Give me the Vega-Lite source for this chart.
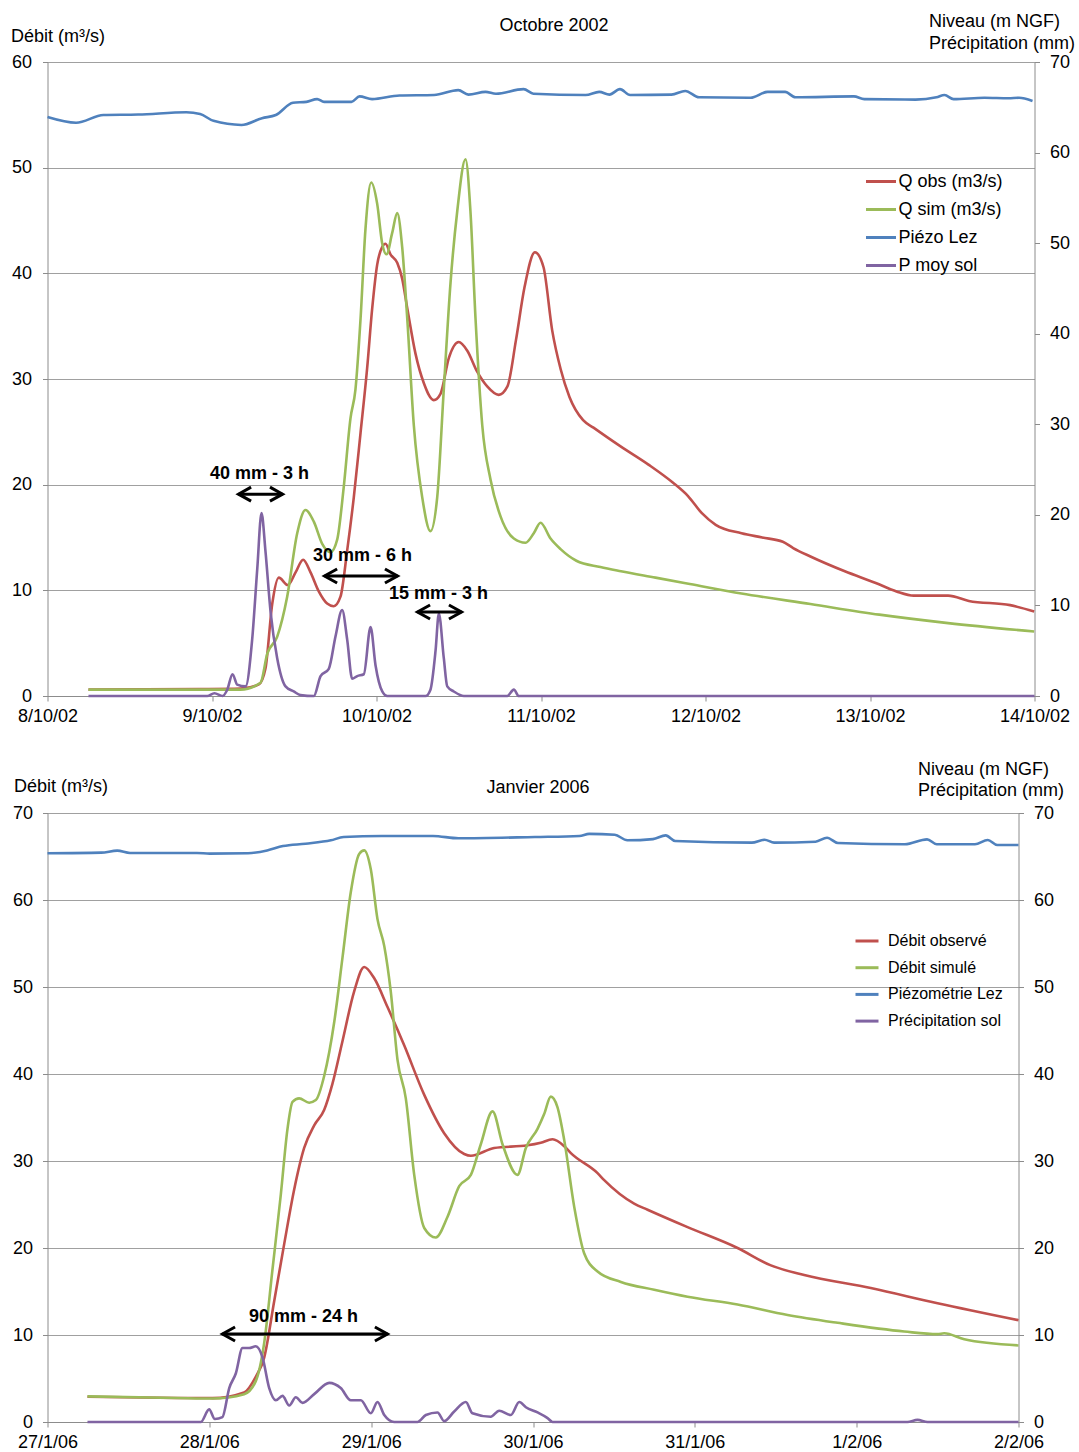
{
"$schema": "https://vega.github.io/schema/vega-lite/v6.json",
"padding": {"left": 10.5, "top": 12, "right": 5, "bottom": 5},
"config": {
  "font": "Liberation Sans",
  "view": {"stroke": null},
  "axis": {"labelFont": "Liberation Sans", "labelFontSize": 18, "labelColor": "#000000", "domainColor": "#8c8c8c", "tickColor": "#8c8c8c", "gridColor": "#a0a0a0", "tickSize": 5, "titleFont": "Liberation Sans", "titleFontWeight": "normal", "titleFontSize": 18, "titleColor": "#000000", "labelFlush": false, "labelOverlap": false, "labelBound": false},
  "legend": {"labelFont": "Liberation Sans", "labelColor": "#000000", "padding": 0, "labelLimit": 400},
  "title": {"font": "Liberation Sans", "fontSize": 18, "fontWeight": "normal", "color": "#000000", "anchor": "middle", "frame": "group"}
},
"datasets": {
  "t_obs": [{"d":8.249,"v":0.6},{"d":8.93,"v":0.65},{"d":9.173,"v":0.7},{"d":9.285,"v":1.1},{"d":9.325,"v":2.6},{"d":9.366,"v":8.7},{"d":9.406,"v":11.2},{"d":9.461,"v":10.5},{"d":9.508,"v":11.7},{"d":9.554,"v":12.9},{"d":9.599,"v":11.7},{"d":9.649,"v":9.9},{"d":9.7,"v":8.75},{"d":9.74,"v":8.5},{"d":9.781,"v":9.4},{"d":9.822,"v":13.8},{"d":9.862,"v":18.8},{"d":9.903,"v":24.9},{"d":9.943,"v":31},{"d":9.974,"v":36.7},{"d":10.004,"v":40.8},{"d":10.035,"v":42.5},{"d":10.055,"v":42.8},{"d":10.085,"v":41.8},{"d":10.126,"v":41},{"d":10.156,"v":39.5},{"d":10.187,"v":36.7},{"d":10.237,"v":32.4},{"d":10.288,"v":29.6},{"d":10.348,"v":28},{"d":10.389,"v":28.6},{"d":10.44,"v":32},{"d":10.5,"v":33.5},{"d":10.551,"v":32.7},{"d":10.612,"v":30.7},{"d":10.673,"v":29.3},{"d":10.743,"v":28.5},{"d":10.796,"v":29.3},{"d":10.848,"v":33.7},{"d":10.9,"v":38.7},{"d":10.963,"v":42},{"d":11.015,"v":40.6},{"d":11.068,"v":34.6},{"d":11.12,"v":30.9},{"d":11.173,"v":28.3},{"d":11.256,"v":26.1},{"d":11.319,"v":25.4},{"d":11.486,"v":23.6},{"d":11.653,"v":21.9},{"d":11.801,"v":20.2},{"d":11.895,"v":18.9},{"d":11.978,"v":17.3},{"d":12.062,"v":16.2},{"d":12.219,"v":15.4},{"d":12.345,"v":15},{"d":12.47,"v":14.6},{"d":12.533,"v":14},{"d":12.638,"v":13.2},{"d":12.847,"v":11.8},{"d":13.035,"v":10.7},{"d":13.161,"v":9.9},{"d":13.266,"v":9.5},{"d":13.475,"v":9.5},{"d":13.601,"v":9},{"d":13.852,"v":8.6},{"d":13.998,"v":8}],
  "t_sim": [{"d":8.249,"v":0.6},{"d":9.173,"v":0.6},{"d":9.295,"v":1.25},{"d":9.336,"v":4},{"d":9.396,"v":5.6},{"d":9.457,"v":9.4},{"d":9.518,"v":15.4},{"d":9.568,"v":17.6},{"d":9.619,"v":16.5},{"d":9.67,"v":14.4},{"d":9.72,"v":13.6},{"d":9.761,"v":14.8},{"d":9.801,"v":19.8},{"d":9.842,"v":26.3},{"d":9.872,"v":29},{"d":9.903,"v":35.7},{"d":9.933,"v":44.2},{"d":9.968,"v":48.6},{"d":10.004,"v":46.6},{"d":10.035,"v":42.8},{"d":10.061,"v":41.8},{"d":10.095,"v":43.8},{"d":10.126,"v":45.7},{"d":10.156,"v":42.5},{"d":10.187,"v":35.7},{"d":10.227,"v":25.6},{"d":10.278,"v":18.8},{"d":10.328,"v":15.6},{"d":10.369,"v":18.8},{"d":10.409,"v":29},{"d":10.45,"v":39.1},{"d":10.491,"v":45.9},{"d":10.541,"v":50.8},{"d":10.571,"v":45.9},{"d":10.602,"v":35.7},{"d":10.643,"v":25.6},{"d":10.693,"v":20.5},{"d":10.754,"v":17},{"d":10.835,"v":14.9},{"d":10.906,"v":14.5},{"d":10.956,"v":15.4},{"d":10.997,"v":16.4},{"d":11.058,"v":14.9},{"d":11.119,"v":13.9},{"d":11.215,"v":12.8},{"d":11.361,"v":12.2},{"d":11.486,"v":11.8},{"d":11.696,"v":11.2},{"d":11.905,"v":10.6},{"d":12.219,"v":9.7},{"d":12.638,"v":8.7},{"d":13.057,"v":7.7},{"d":13.475,"v":6.9},{"d":13.998,"v":6.1}],
  "t_pz": [{"d":8,"v":63.93},{"d":8.174,"v":63.3},{"d":8.34,"v":64.15},{"d":8.551,"v":64.2},{"d":8.844,"v":64.45},{"d":8.928,"v":64.26},{"d":9.009,"v":63.5},{"d":9.179,"v":63.05},{"d":9.304,"v":63.8},{"d":9.388,"v":64.15},{"d":9.492,"v":65.5},{"d":9.574,"v":65.6},{"d":9.639,"v":65.9},{"d":9.681,"v":65.6},{"d":9.848,"v":65.6},{"d":9.897,"v":66.2},{"d":9.973,"v":65.9},{"d":10.14,"v":66.3},{"d":10.35,"v":66.35},{"d":10.497,"v":66.9},{"d":10.559,"v":66.4},{"d":10.663,"v":66.7},{"d":10.726,"v":66.5},{"d":10.894,"v":67},{"d":10.954,"v":66.5},{"d":11.271,"v":66.35},{"d":11.354,"v":66.7},{"d":11.416,"v":66.4},{"d":11.48,"v":67},{"d":11.542,"v":66.35},{"d":11.793,"v":66.4},{"d":11.877,"v":66.8},{"d":11.961,"v":66.1},{"d":12.274,"v":66.05},{"d":12.377,"v":66.7},{"d":12.484,"v":66.7},{"d":12.547,"v":66.1},{"d":12.902,"v":66.2},{"d":12.965,"v":65.9},{"d":13.277,"v":65.85},{"d":13.404,"v":66.1},{"d":13.453,"v":66.35},{"d":13.508,"v":65.9},{"d":13.696,"v":66.05},{"d":13.842,"v":66},{"d":13.906,"v":66.05},{"d":13.988,"v":65.7}],
  "t_p": [{"d":8.249,"v":0},{"d":8.971,"v":0},{"d":9.015,"v":0.3},{"d":9.064,"v":0},{"d":9.092,"v":0.66},{"d":9.125,"v":2.4},{"d":9.153,"v":1.26},{"d":9.204,"v":1.06},{"d":9.244,"v":6.2},{"d":9.275,"v":14},{"d":9.301,"v":20.2},{"d":9.325,"v":16},{"d":9.356,"v":9.3},{"d":9.396,"v":4.2},{"d":9.447,"v":1.06},{"d":9.497,"v":0.5},{"d":9.538,"v":0.1},{"d":9.619,"v":0},{"d":9.66,"v":2.2},{"d":9.71,"v":3},{"d":9.751,"v":6.6},{"d":9.791,"v":9.5},{"d":9.822,"v":6.2},{"d":9.852,"v":1.9},{"d":9.883,"v":2.2},{"d":9.923,"v":2.4},{"d":9.964,"v":7.6},{"d":9.994,"v":3.4},{"d":10.035,"v":0.5},{"d":10.065,"v":0},{"d":10.298,"v":0},{"d":10.328,"v":0.7},{"d":10.359,"v":5},{"d":10.379,"v":9.1},{"d":10.409,"v":4.2},{"d":10.43,"v":1.06},{"d":10.47,"v":0.5},{"d":10.531,"v":0},{"d":10.795,"v":0},{"d":10.835,"v":0.7},{"d":10.865,"v":0},{"d":14,"v":0}],
  "t_text": [{"d":9.289,"v":21.0,"t":"40 mm - 3 h"},{"d":9.915,"v":13.25,"t":"30 mm - 6 h"},{"d":10.377,"v":9.65,"t":"15 mm - 3 h"}],
  "t_arrows": [{"d1":9.161,"d2":9.429,"v":19.1},{"d1":9.684,"d2":10.128,"v":11.36},{"d1":10.249,"d2":10.517,"v":7.95}],
  "t_heads": [{"d":9.161,"v":19.1,"side":"L"},{"d":9.429,"v":19.1,"side":"R"},{"d":9.684,"v":11.36,"side":"L"},{"d":10.128,"v":11.36,"side":"R"},{"d":10.249,"v":7.95,"side":"L"},{"d":10.517,"v":7.95,"side":"R"}],
  "b_obs": [{"d":27.247,"v":2.9},{"d":27.803,"v":2.76},{"d":28.02,"v":2.75},{"d":28.215,"v":3.4},{"d":28.287,"v":5.2},{"d":28.339,"v":7.4},{"d":28.401,"v":13.9},{"d":28.463,"v":20.5},{"d":28.524,"v":26.7},{"d":28.586,"v":31.5},{"d":28.648,"v":34.1},{"d":28.71,"v":35.9},{"d":28.761,"v":38.9},{"d":28.823,"v":43.8},{"d":28.895,"v":49.5},{"d":28.957,"v":52.3},{"d":29.019,"v":51},{"d":29.101,"v":47.7},{"d":29.204,"v":43.3},{"d":29.328,"v":37.6},{"d":29.451,"v":33.2},{"d":29.575,"v":30.8},{"d":29.616,"v":30.6},{"d":29.76,"v":31.5},{"d":29.966,"v":31.8},{"d":30.048,"v":32.1},{"d":30.121,"v":32.5},{"d":30.193,"v":31.7},{"d":30.234,"v":30.9},{"d":30.399,"v":28.6},{"d":30.44,"v":27.8},{"d":30.625,"v":25.1},{"d":30.708,"v":24.4},{"d":30.955,"v":22.4},{"d":31.264,"v":20},{"d":31.47,"v":18},{"d":31.676,"v":16.9},{"d":32.087,"v":15.4},{"d":32.5,"v":13.65},{"d":33,"v":11.7}],
  "b_sim": [{"d":27.247,"v":2.95},{"d":27.803,"v":2.76},{"d":28.02,"v":2.7},{"d":28.215,"v":3.2},{"d":28.287,"v":4.7},{"d":28.339,"v":9.1},{"d":28.39,"v":17.5},{"d":28.442,"v":26.2},{"d":28.483,"v":33.7},{"d":28.514,"v":36.8},{"d":28.555,"v":37.2},{"d":28.617,"v":36.7},{"d":28.658,"v":37},{"d":28.71,"v":39.8},{"d":28.772,"v":46},{"d":28.823,"v":53.4},{"d":28.874,"v":60.9},{"d":28.926,"v":65.3},{"d":28.957,"v":65.7},{"d":28.998,"v":63.5},{"d":29.039,"v":57.8},{"d":29.081,"v":54.7},{"d":29.121,"v":49.5},{"d":29.163,"v":41.6},{"d":29.214,"v":37.2},{"d":29.266,"v":28.4},{"d":29.328,"v":22.3},{"d":29.399,"v":21.2},{"d":29.472,"v":23.6},{"d":29.544,"v":27.1},{"d":29.616,"v":28.4},{"d":29.677,"v":31.9},{"d":29.75,"v":35.7},{"d":29.812,"v":31.9},{"d":29.904,"v":28.4},{"d":29.956,"v":31.5},{"d":30.028,"v":33.7},{"d":30.069,"v":35.4},{"d":30.11,"v":37.4},{"d":30.151,"v":36.2},{"d":30.193,"v":32.4},{"d":30.255,"v":24.7},{"d":30.316,"v":19.4},{"d":30.399,"v":17.3},{"d":30.543,"v":16.1},{"d":30.749,"v":15.2},{"d":30.955,"v":14.4},{"d":31.264,"v":13.5},{"d":31.573,"v":12.3},{"d":31.882,"v":11.4},{"d":32.294,"v":10.4},{"d":32.5,"v":10.1},{"d":32.541,"v":10.2},{"d":32.665,"v":9.5},{"d":33,"v":8.8}],
  "b_pz": [{"d":27,"v":65.37},{"d":27.332,"v":65.44},{"d":27.431,"v":65.67},{"d":27.51,"v":65.4},{"d":27.923,"v":65.4},{"d":28.002,"v":65.33},{"d":28.239,"v":65.37},{"d":28.357,"v":65.7},{"d":28.455,"v":66.2},{"d":28.594,"v":66.47},{"d":28.751,"v":66.86},{"d":28.83,"v":67.24},{"d":29.066,"v":67.36},{"d":29.382,"v":67.36},{"d":29.539,"v":67.09},{"d":30.012,"v":67.24},{"d":30.287,"v":67.36},{"d":30.347,"v":67.6},{"d":30.505,"v":67.5},{"d":30.583,"v":66.86},{"d":30.741,"v":67},{"d":30.82,"v":67.43},{"d":30.879,"v":66.78},{"d":31.352,"v":66.59},{"d":31.431,"v":66.93},{"d":31.49,"v":66.59},{"d":31.746,"v":66.7},{"d":31.817,"v":67.16},{"d":31.884,"v":66.55},{"d":32.298,"v":66.4},{"d":32.435,"v":66.97},{"d":32.495,"v":66.4},{"d":32.731,"v":66.4},{"d":32.81,"v":66.9},{"d":32.869,"v":66.32},{"d":33,"v":66.32}],
  "b_p": [{"d":27.247,"v":0},{"d":27.947,"v":0},{"d":27.999,"v":1.45},{"d":28.034,"v":0.35},{"d":28.081,"v":0.57},{"d":28.123,"v":3.9},{"d":28.164,"v":5.6},{"d":28.205,"v":8.5},{"d":28.246,"v":8.5},{"d":28.287,"v":8.7},{"d":28.329,"v":7.4},{"d":28.37,"v":3.9},{"d":28.411,"v":2.5},{"d":28.452,"v":3},{"d":28.494,"v":1.9},{"d":28.534,"v":2.85},{"d":28.576,"v":2.2},{"d":28.648,"v":3.2},{"d":28.741,"v":4.5},{"d":28.812,"v":3.9},{"d":28.874,"v":2.5},{"d":28.936,"v":2.5},{"d":28.998,"v":1},{"d":29.039,"v":2.3},{"d":29.081,"v":0.8},{"d":29.142,"v":0},{"d":29.286,"v":0},{"d":29.338,"v":0.8},{"d":29.41,"v":1.1},{"d":29.451,"v":0.1},{"d":29.513,"v":1.2},{"d":29.585,"v":2.3},{"d":29.626,"v":1},{"d":29.739,"v":0.6},{"d":29.791,"v":1.3},{"d":29.863,"v":0.8},{"d":29.915,"v":2.3},{"d":29.956,"v":1.7},{"d":30.028,"v":1.1},{"d":30.09,"v":0.45},{"d":30.121,"v":0},{"d":32.314,"v":0},{"d":32.376,"v":0.25},{"d":32.438,"v":0},{"d":33,"v":0}],
  "b_text": [{"d":28.582,"v":12.07,"t":"90 mm - 24 h"}],
  "b_arrows": [{"d1":28.081,"d2":29.101,"v":10.11}],
  "b_heads": [{"d":28.081,"v":10.11,"side":"L"},{"d":29.101,"v":10.11,"side":"R"}]
},
"vconcat": [
 {
  "width": 987, "height": 634,
  "title": {"text": "Octobre 2002", "dx": 13, "dy": 27},
  "layer": [
   {"layer": [
     {"data": {"name": "t_obs"}, "mark": {"type": "line", "interpolate": "monotone", "strokeWidth": 2.6},
      "encoding": {
       "x": {"field": "d", "type": "quantitative", "scale": {"domain": [8, 14], "nice": false, "zero": false}, "axis": {"values": [8,9,10,11,12,13,14], "labelExpr": "datum.value + '/10/02'", "title": null, "grid": false, "labelPadding": 6}},
       "y": {"field": "v", "type": "quantitative", "scale": {"domain": [0, 60], "nice": false}, "axis": {"orient": "left", "values": [0,10,20,30,40,50,60], "grid": true, "labelPadding": 11, "title": "Débit (m³/s)", "titleAngle": 0, "titleAlign": "left", "titleBaseline": "alphabetic", "titleX": -37, "titleY": -21}},
       "color": {"datum": "Q obs (m3/s)", "type": "nominal", "scale": {"domain": ["Q obs (m3/s)", "Q sim (m3/s)", "Piézo Lez", "P moy sol"], "range": ["#C0504D", "#9BBB59", "#4F81BD", "#8064A2"]},
                 "legend": {"title": null, "orient": "none", "legendX": 817, "legendY": 103, "symbolType": "stroke", "symbolSize": 900, "symbolStrokeWidth": 3, "rowPadding": 2, "labelOffset": 1, "labelFontSize": 18}}
      }},
     {"data": {"name": "t_sim"}, "mark": {"type": "line", "interpolate": "monotone", "strokeWidth": 2.6},
      "encoding": {
       "x": {"field": "d", "type": "quantitative", "scale": {"domain": [8, 14], "nice": false, "zero": false}},
       "y": {"field": "v", "type": "quantitative"},
       "color": {"datum": "Q sim (m3/s)", "type": "nominal"}
      }}
   ]},
   {"layer": [
     {"data": {"name": "t_pz"}, "mark": {"type": "line", "interpolate": "monotone", "strokeWidth": 2.6},
      "encoding": {
       "x": {"field": "d", "type": "quantitative", "scale": {"domain": [8, 14], "nice": false, "zero": false}},
       "y": {"field": "v", "type": "quantitative", "scale": {"domain": [0, 70], "nice": false}, "axis": {"orient": "right", "values": [0,10,20,30,40,50,60,70], "grid": false, "labelPadding": 10, "title": ["Niveau (m NGF)", "Précipitation (mm)"], "titleAngle": 0, "titleAlign": "left", "titleBaseline": "alphabetic", "titleLineHeight": 22, "titleX": -106, "titleY": -36}},
       "color": {"datum": "Piézo Lez", "type": "nominal"}
      }},
     {"data": {"name": "t_p"}, "mark": {"type": "line", "interpolate": "monotone", "strokeWidth": 2.6},
      "encoding": {
       "x": {"field": "d", "type": "quantitative", "scale": {"domain": [8, 14], "nice": false, "zero": false}},
       "y": {"field": "v", "type": "quantitative"},
       "color": {"datum": "P moy sol", "type": "nominal"}
      }}
   ]},
   {"layer": [
     {"data": {"name": "t_arrows"}, "mark": {"type": "rule", "strokeWidth": 3, "color": "#000000"},
      "encoding": {
       "x": {"field": "d1", "type": "quantitative", "scale": {"domain": [8, 14], "nice": false, "zero": false}},
       "x2": {"field": "d2"},
       "y": {"field": "v", "type": "quantitative", "scale": {"domain": [0, 60], "nice": false}, "axis": null}
      }},
     {"data": {"name": "t_heads"}, "mark": {"type": "point", "filled": false, "stroke": "#000000", "strokeWidth": 3, "opacity": 1, "size": 196, "strokeJoin": "miter", "strokeCap": "butt"},
      "encoding": {
       "x": {"field": "d", "type": "quantitative", "scale": {"domain": [8, 14], "nice": false, "zero": false}},
       "y": {"field": "v", "type": "quantitative"},
       "shape": {"field": "side", "type": "nominal", "scale": {"domain": ["L", "R"], "range": ["M 1.8 -1 L 0 0 L 1.8 1", "M -1.8 -1 L 0 0 L -1.8 1"]}, "legend": null}
      }},
     {"data": {"name": "t_text"}, "mark": {"type": "text", "fontWeight": "bold", "fontSize": 18, "color": "#000000", "font": "Liberation Sans"},
      "encoding": {
       "x": {"field": "d", "type": "quantitative", "scale": {"domain": [8, 14], "nice": false, "zero": false}},
       "y": {"field": "v", "type": "quantitative"},
       "text": {"field": "t", "type": "nominal"}
      }}
   ]}
  ],
  "resolve": {"scale": {"y": "independent"}}
 },
 {
  "width": 971, "height": 609,
  "title": {"text": "Janvier 2006", "dx": 5, "dy": 41},
  "layer": [
   {"layer": [
     {"data": {"name": "b_obs"}, "mark": {"type": "line", "interpolate": "monotone", "strokeWidth": 2.6},
      "encoding": {
       "x": {"field": "d", "type": "quantitative", "scale": {"domain": [27, 33], "nice": false, "zero": false}, "axis": {"values": [27,28,29,30,31,32,33], "labelExpr": "datum.value <= 31 ? datum.value + '/1/06' : (datum.value - 31) + '/2/06'", "title": null, "grid": false, "labelPadding": 6}},
       "y": {"field": "v", "type": "quantitative", "scale": {"domain": [0, 70], "nice": false}, "axis": {"orient": "left", "values": [0,10,20,30,40,50,60,70], "grid": true, "labelPadding": 10, "title": "Débit (m³/s)", "titleAngle": 0, "titleAlign": "left", "titleBaseline": "alphabetic", "titleX": -34, "titleY": -22}},
       "color": {"datum": "Débit observé", "type": "nominal", "scale": {"domain": ["Débit observé", "Débit simulé", "Piézométrie Lez", "Précipitation sol"], "range": ["#C0504D", "#9BBB59", "#4F81BD", "#8064A2"]},
                 "legend": {"title": null, "orient": "none", "legendX": 806.5, "legendY": 115, "symbolType": "stroke", "symbolSize": 529, "symbolStrokeWidth": 3, "rowPadding": 5.7, "labelOffset": 8, "labelFontSize": 16}}
      }},
     {"data": {"name": "b_sim"}, "mark": {"type": "line", "interpolate": "monotone", "strokeWidth": 2.6},
      "encoding": {
       "x": {"field": "d", "type": "quantitative", "scale": {"domain": [27, 33], "nice": false, "zero": false}},
       "y": {"field": "v", "type": "quantitative"},
       "color": {"datum": "Débit simulé", "type": "nominal"}
      }}
   ]},
   {"layer": [
     {"data": {"name": "b_pz"}, "mark": {"type": "line", "interpolate": "monotone", "strokeWidth": 2.6},
      "encoding": {
       "x": {"field": "d", "type": "quantitative", "scale": {"domain": [27, 33], "nice": false, "zero": false}},
       "y": {"field": "v", "type": "quantitative", "scale": {"domain": [0, 70], "nice": false}, "axis": {"orient": "right", "values": [0,10,20,30,40,50,60,70], "grid": false, "labelPadding": 10, "title": ["Niveau (m NGF)", "Précipitation (mm)"], "titleAngle": 0, "titleAlign": "left", "titleBaseline": "alphabetic", "titleLineHeight": 21, "titleX": -101, "titleY": -39}},
       "color": {"datum": "Piézométrie Lez", "type": "nominal"}
      }},
     {"data": {"name": "b_p"}, "mark": {"type": "line", "interpolate": "monotone", "strokeWidth": 2.6},
      "encoding": {
       "x": {"field": "d", "type": "quantitative", "scale": {"domain": [27, 33], "nice": false, "zero": false}},
       "y": {"field": "v", "type": "quantitative"},
       "color": {"datum": "Précipitation sol", "type": "nominal"}
      }}
   ]},
   {"layer": [
     {"data": {"name": "b_arrows"}, "mark": {"type": "rule", "strokeWidth": 3, "color": "#000000"},
      "encoding": {
       "x": {"field": "d1", "type": "quantitative", "scale": {"domain": [27, 33], "nice": false, "zero": false}},
       "x2": {"field": "d2"},
       "y": {"field": "v", "type": "quantitative", "scale": {"domain": [0, 70], "nice": false}, "axis": null}
      }},
     {"data": {"name": "b_heads"}, "mark": {"type": "point", "filled": false, "stroke": "#000000", "strokeWidth": 3, "opacity": 1, "size": 196, "strokeJoin": "miter", "strokeCap": "butt"},
      "encoding": {
       "x": {"field": "d", "type": "quantitative", "scale": {"domain": [27, 33], "nice": false, "zero": false}},
       "y": {"field": "v", "type": "quantitative"},
       "shape": {"field": "side", "type": "nominal", "scale": {"domain": ["L", "R"], "range": ["M 1.8 -1 L 0 0 L 1.8 1", "M -1.8 -1 L 0 0 L -1.8 1"]}, "legend": null}
      }},
     {"data": {"name": "b_text"}, "mark": {"type": "text", "fontWeight": "bold", "fontSize": 18, "color": "#000000", "font": "Liberation Sans"},
      "encoding": {
       "x": {"field": "d", "type": "quantitative", "scale": {"domain": [27, 33], "nice": false, "zero": false}},
       "y": {"field": "v", "type": "quantitative"},
       "text": {"field": "t", "type": "nominal"}
      }}
   ]}
  ],
  "resolve": {"scale": {"y": "independent"}}
 }
],
"spacing": 35,
"resolve": {"scale": {"color": "independent", "shape": "independent", "x": "independent"}, "legend": {"color": "independent"}}
}
